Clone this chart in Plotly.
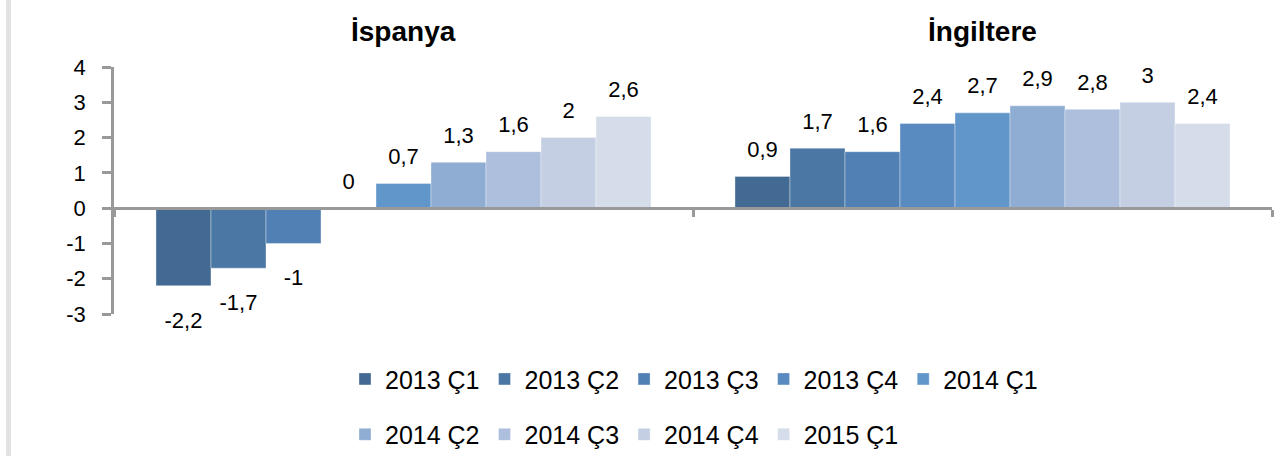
import plotly.graph_objects as go

# ---- data ----
categories = ["İspanya", "İngiltere"]
quarters = ["2013 Ç1", "2013 Ç2", "2013 Ç3", "2013 Ç4", "2014 Ç1",
            "2014 Ç2", "2014 Ç3", "2014 Ç4", "2015 Ç1"]
spain = [-2.2, -1.7, -1.0, 0.0, 0.7, 1.3, 1.6, 2.0, 2.6]
uk = [0.9, 1.7, 1.6, 2.4, 2.7, 2.9, 2.8, 3.0, 2.4]
colors = ["#426A93", "#4A77A4", "#5080B4", "#5A8BC0", "#6196CA",
          "#8FADD3", "#ADBFDC", "#C4CFE3", "#D5DCEA"]
y_ticks = [-3, -2, -1, 0, 1, 2, 3, 4]

FONT = "Liberation Sans, Arial, sans-serif"
W, H = 1276, 462
ML, MR, MT, MB = 114, 4, 67, 141
PW = W - ML - MR
PH = H - MT - MB

BARGAP = 0.145
n = len(quarters)
group_w = 1 - BARGAP
bar_w = group_w / n


def fmt(v):
    s = f"{v:g}"
    return s.replace(".", ",")


fig = go.Figure()
xs = list(range(len(categories)))
for j, q in enumerate(quarters):
    vals = [spain[j], uk[j]]
    fig.add_trace(go.Bar(
        x=xs, y=vals, name=q,
        marker=dict(color=colors[j], line=dict(width=0.6, color="rgba(255,255,255,0.6)")),
        legend="legend" if j < 5 else "legend2",
        hoverinfo="skip",
    ))

# data labels (scatter text over the bar centres)
lx, ly, lt, lp, ls = [], [], [], [], []
for j in range(n):
    for i, vals in enumerate([spain, uk]):
        v = vals[j]
        lx.append(i - group_w / 2 + (j + 0.5) * bar_w)
        ly.append(v)
        lt.append(fmt(v))
        neg = v < 0
        lp.append("bottom center" if neg else "top center")
        ls.append(39 if neg else 21)
fig.add_trace(go.Scatter(
    x=lx, y=ly, text=lt, textposition=lp, mode="markers+text",
    marker=dict(size=ls, color="rgba(0,0,0,0)", opacity=0,
                line=dict(width=0, color="rgba(0,0,0,0)")),
    textfont=dict(size=22, color="#000000", family=FONT),
    showlegend=False, hoverinfo="skip", cliponaxis=False,
))

# category titles
for i, c in enumerate(categories):
    fig.add_annotation(
        x=i, xref="x", y=(PH + MT - 31) / PH, yref="paper",
        text=f"<b>{c}</b>", showarrow=False, yanchor="middle",
        font=dict(size=28, color="#000000", family=FONT),
    )

# light grey left border strip
fig.add_shape(type="rect", xref="paper", yref="paper",
              x0=(6 - ML) / PW, x1=(11 - ML) / PW,
              y0=-(MB + 5) / PH, y1=(PH + MT + 5) / PH,
              fillcolor="#E2E2E2", line=dict(width=0), layer="below")

zero_pos = (0 - y_ticks[0]) / (y_ticks[-1] - y_ticks[0])

legend_common = dict(
    orientation="h", x=(345 - ML) / PW, xanchor="left", yanchor="middle",
    font=dict(size=25, color="#000000", family=FONT),
    bgcolor="rgba(0,0,0,0)", traceorder="normal",
)

fig.update_layout(
    width=W, height=H,
    margin=dict(l=ML, r=MR, t=MT, b=MB, pad=0),
    paper_bgcolor="#FFFFFF", plot_bgcolor="#FFFFFF",
    barmode="group", bargap=BARGAP, bargroupgap=0,
    font=dict(family=FONT, size=22, color="#000000"),
    xaxis=dict(
        range=[-0.5, len(categories) - 0.5],
        tickvals=[-0.5 + k for k in range(len(categories) + 1)],
        showticklabels=False, ticks="outside", ticklen=7, tickwidth=2.5,
        tickcolor="#999999", showline=True, linecolor="#999999", linewidth=2.5,
        showgrid=False, zeroline=False, anchor="free", position=zero_pos,
    ),
    yaxis=dict(
        range=[y_ticks[0], y_ticks[-1]], tickvals=y_ticks,
        ticktext=[str(t) for t in y_ticks],
        ticks="outside", ticklen=9, tickwidth=2.5, tickcolor="#999999",
        showline=True, linecolor="#999999", linewidth=2.5,
        showgrid=False, zeroline=False,
        tickfont=dict(size=22, color="#000000", family=FONT),
        ticklabelstandoff=12,
    ),
    legend=dict(legend_common, y=(PH - (388 - MT)) / PH),
    legend2=dict(legend_common, y=(PH - (445 - MT)) / PH),
    showlegend=True,
)

fig.write_html("out.html", config={"displayModeBar": False},
               post_script="document.body.style.margin='0px';")
